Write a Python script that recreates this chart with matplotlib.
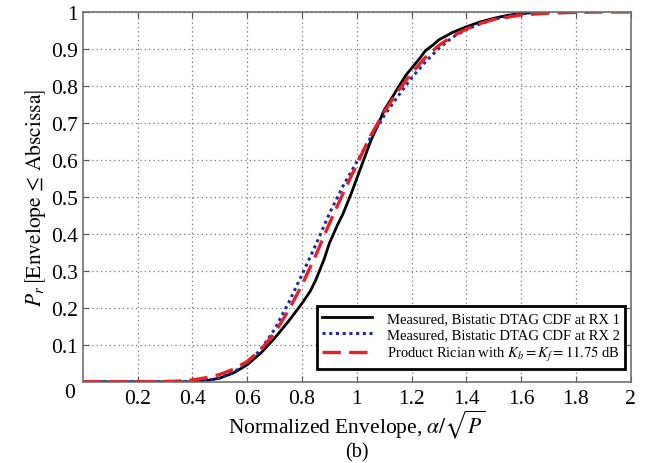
import numpy as np
import matplotlib.pyplot as plt

plt.rcParams['font.family'] = ['Liberation Serif', 'DejaVu Serif']
plt.rcParams['mathtext.fontset'] = 'stix'

# Measured CDF, RX 1 (black, solid)
x_rx1 = [0.0, 0.40, 0.45, 0.50, 0.55, 0.60, 0.65, 0.70, 0.75, 0.80, 0.83, 0.85, 0.88,
         0.90, 0.93, 0.95, 0.98, 1.00, 1.03, 1.05, 1.08, 1.10, 1.13, 1.15, 1.18, 1.20,
         1.23, 1.25, 1.28, 1.30, 1.35, 1.40, 1.45, 1.50, 1.55, 1.60, 1.65, 1.70]
y_rx1 = [0.0, 0.000, 0.003, 0.010, 0.024, 0.046, 0.078, 0.118, 0.163, 0.212, 0.245, 0.275, 0.330,
         0.375, 0.425, 0.455, 0.510, 0.550, 0.610, 0.650, 0.700, 0.735, 0.770, 0.795, 0.830, 0.848,
         0.875, 0.895, 0.912, 0.925, 0.945, 0.960, 0.973, 0.983, 0.991, 0.996, 0.999, 1.0]

# Measured CDF, RX 2 (blue, dotted)
x_rx2 = [0.0, 0.40, 0.45, 0.50, 0.55, 0.60, 0.65, 0.70, 0.75, 0.80, 0.85, 0.90, 0.95,
         1.00, 1.05, 1.10, 1.15, 1.20, 1.25, 1.30, 1.35, 1.40, 1.45, 1.50, 1.55, 1.60,
         1.65, 1.70]
y_rx2 = [0.0, 0.000, 0.003, 0.011, 0.026, 0.050, 0.088, 0.142, 0.212, 0.290, 0.370, 0.455, 0.530,
         0.595, 0.660, 0.720, 0.772, 0.822, 0.865, 0.902, 0.932, 0.953, 0.968, 0.980, 0.989, 0.995,
         0.999, 1.0]

# Product Rician model (red, dashed)
x_ric = [0.0, 0.25, 0.30, 0.35, 0.40, 0.45, 0.50, 0.55, 0.60, 0.65, 0.70, 0.75, 0.80,
         0.85, 0.90, 0.95, 1.00, 1.05, 1.10, 1.15, 1.20, 1.25, 1.30, 1.35, 1.40, 1.45,
         1.50, 1.60, 1.70, 1.80, 1.90, 2.00]
y_ric = [0.0, 0.0002, 0.0008, 0.002, 0.005, 0.011, 0.020, 0.034, 0.055, 0.087, 0.132, 0.192, 0.262,
         0.342, 0.428, 0.510, 0.588, 0.665, 0.730, 0.786, 0.835, 0.877, 0.910, 0.935, 0.954, 0.969,
         0.980, 0.992, 0.997, 0.999, 1.0, 1.0]

fig = plt.figure(figsize=(6.47, 4.64), dpi=100)
ax = fig.add_axes([0.128, 0.175, 0.847, 0.797])

ax.plot(x_rx1, y_rx1, color='black', lw=2.0, label='Measured, Bistatic DTAG CDF at RX 1')
ax.plot(x_rx2, y_rx2, color='#1f2a9c', lw=2.2, ls=(0, (1, 1.2)),
        label='Measured, Bistatic DTAG CDF at RX 2')
ax.plot(x_ric, y_ric, color='#e8202a', lw=2.4, ls=(0, (5.5, 2.5)),
        label=r'Product Rician with $K_b = K_f = 11.75$ dB')

ax.set_xlim(0, 2)
ax.set_ylim(0, 1)
ax.set_xticks(np.arange(0.2, 2.01, 0.2))
ax.set_xticklabels(['0.2', '0.4', '0.6', '0.8', '1', '1.2', '1.4', '1.6', '1.8', '2'])
ax.set_yticks(np.arange(0.1, 1.01, 0.1))
ax.set_yticklabels(['0.1', '0.2', '0.3', '0.4', '0.5', '0.6', '0.7', '0.8', '0.9', '1'])
ax.text(-0.014, -0.028, '0', transform=ax.transAxes, ha='right', va='center', fontsize=15.5)

ax.tick_params(direction='in', top=True, right=True, labelsize=15.5, length=4, color='#555555')
ax.tick_params(axis='x', pad=5)
ax.grid(True, ls=(0, (1, 2.5)), color='#777777', lw=0.9)
for s in ax.spines.values():
    s.set_color('#707070')
    s.set_linewidth(1.2)

ax.set_xlabel(r'Normalized Envelope, $\alpha/\sqrt{P}$', fontsize=15.5, labelpad=0)
ax.set_ylabel(r'$P_r\,\left[\mathrm{Envelope}\,\leq\,\mathrm{Abscissa}\right]$', fontsize=15.5, labelpad=2)
fig.text(0.552, 0.025, '(b)', ha='center', va='center', fontsize=14.5)

leg = ax.legend(loc='lower right', bbox_to_anchor=(0.99, 0.035), fontsize=10.5,
                fancybox=False, framealpha=1, borderaxespad=0, handlelength=3.4,
                borderpad=0.4, labelspacing=0.2, handletextpad=1.0)
leg.get_frame().set_edgecolor('black')
leg.get_frame().set_linewidth(2.0)

fig.savefig('out.png', dpi=100)
